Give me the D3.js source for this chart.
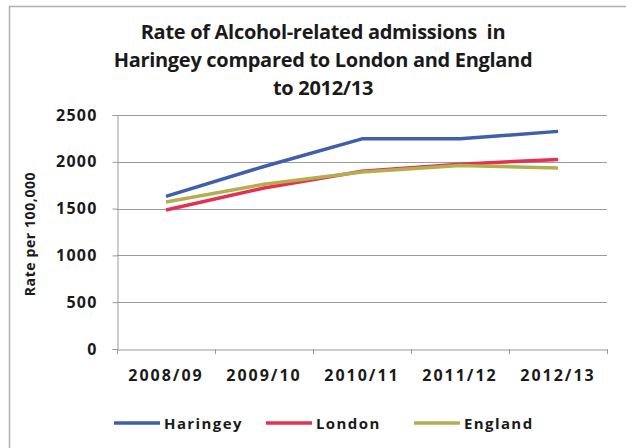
<!DOCTYPE html>
<html>
<head>
<meta charset="utf-8">
<script src="https://cdn.jsdelivr.net/npm/d3@7"></script>
<style>
  html, body { margin: 0; padding: 0; background: #fff; }
  svg { display: block; }
  text { font-family: "Open Sans", sans-serif; font-weight: 700; fill: #1a1a1a; white-space: pre; }
</style>
</head>
<body>
<svg id="chart" width="626" height="448"></svg>
<script>
// Alcohol-related admissions, rate per 100,000
const years = ["2008/09", "2009/10", "2010/11", "2011/12", "2012/13"];
const haringey = [1630, 1950, 2245, 2245, 2325];
const london = [1485, 1720, 1900, 1975, 2025];
const england = [1570, 1760, 1890, 1960, 1935];
const yTicks = [0, 500, 1000, 1500, 2000, 2500];
const titleLines = ["Rate of Alcohol-related admissions  in",
                    "Haringey compared to London and England",
                    "to 2012/13"];

const series = [
  { name: "Haringey", values: haringey, color: "#3f5fad" },
  { name: "London", values: london, color: "#e5304f" },
  { name: "England", values: england, color: "#b3ae4e" }
];

const svg = d3.select("#chart");
const FONT = "'Open Sans', sans-serif";

// outer frame
svg.append("path")
  .attr("d", "M9.5,448 L9.5,6.5 L626,6.5")
  .attr("fill", "none").attr("stroke", "#b0b0b0").attr("stroke-width", 1.5);

// title
svg.append("g").selectAll("text").data(titleLines).join("text")
  .attr("x", 323).attr("y", (d, i) => 39 + i * 28)
  .attr("text-anchor", "middle")
  .style("font-size", "20px")
  .style("letter-spacing", "-0.3px")
  .text(d => d);

const x = d3.scaleBand().domain(years).range([117, 607]);
const y = d3.scaleLinear().domain([0, 2500]).range([349, 115]);

// gridlines
svg.append("g").selectAll("line").data(yTicks.filter(d => d > 0)).join("line")
  .attr("x1", 117).attr("x2", 607)
  .attr("y1", d => Math.round(y(d)) + 0.5).attr("y2", d => Math.round(y(d)) + 0.5)
  .attr("stroke", "#9a9a9a").attr("stroke-width", 1);

// y axis
const yAxis = svg.append("g").attr("transform", "translate(117.5,0)")
  .call(d3.axisLeft(y).tickValues(yTicks).tickFormat(d3.format("d")).tickSize(5).tickPadding(15));
yAxis.select(".domain").attr("stroke", "#9a9a9a");
yAxis.selectAll(".tick line").attr("stroke", "#9a9a9a");
yAxis.selectAll(".tick text").style("font-size", "16px").style("font-family", FONT)
  .style("font-weight", "700").style("letter-spacing", "1.2px").attr("fill", "#1a1a1a");

// x axis
const xAxis = svg.append("g").attr("transform", "translate(0," + (Math.round(y(0)) + 0.5) + ")")
  .call(d3.axisBottom(x).tickSize(0).tickPadding(20));
xAxis.select(".domain").attr("stroke", "#9a9a9a");
xAxis.selectAll(".tick text").style("font-size", "16px").style("font-family", FONT)
  .style("font-weight", "700").style("letter-spacing", "2px").attr("fill", "#1a1a1a");
// category boundary ticks
const bounds = years.map(d => x(d)).concat([x.range()[1]]);
svg.append("g").selectAll("line").data(bounds).join("line")
  .attr("x1", d => Math.round(d) + 0.5).attr("x2", d => Math.round(d) + 0.5)
  .attr("y1", Math.round(y(0))).attr("y2", Math.round(y(0)) + 5)
  .attr("stroke", "#9a9a9a");

// y axis title
svg.append("text")
  .attr("transform", "translate(35," + 234 + ") rotate(-90)")
  .attr("text-anchor", "middle")
  .style("font-size", "14px")
  .style("letter-spacing", "0.6px")
  .text("Rate per 100,000");

// series lines
const line = d3.line()
  .x((d, i) => x(years[i]) + x.bandwidth() / 2)
  .y(d => y(d));
svg.append("g").selectAll("path").data(series).join("path")
  .attr("d", d => line(d.values))
  .attr("fill", "none")
  .attr("stroke", d => d.color)
  .attr("stroke-width", 3.5)
  .attr("stroke-linejoin", "round");

// legend
const legendX = [114, 266, 414];
const lg = svg.append("g").selectAll("g").data(series).join("g")
  .attr("transform", (d, i) => "translate(" + legendX[i] + ",423)");
lg.append("line").attr("x1", 0).attr("x2", 46).attr("y1", 0).attr("y2", 0)
  .attr("stroke", d => d.color).attr("stroke-width", 3.5);
lg.append("text").attr("x", 50).attr("y", 5.5)
  .style("font-size", "15px")
  .style("letter-spacing", "1.4px")
  .text(d => d.name);
</script>
</body>
</html>
